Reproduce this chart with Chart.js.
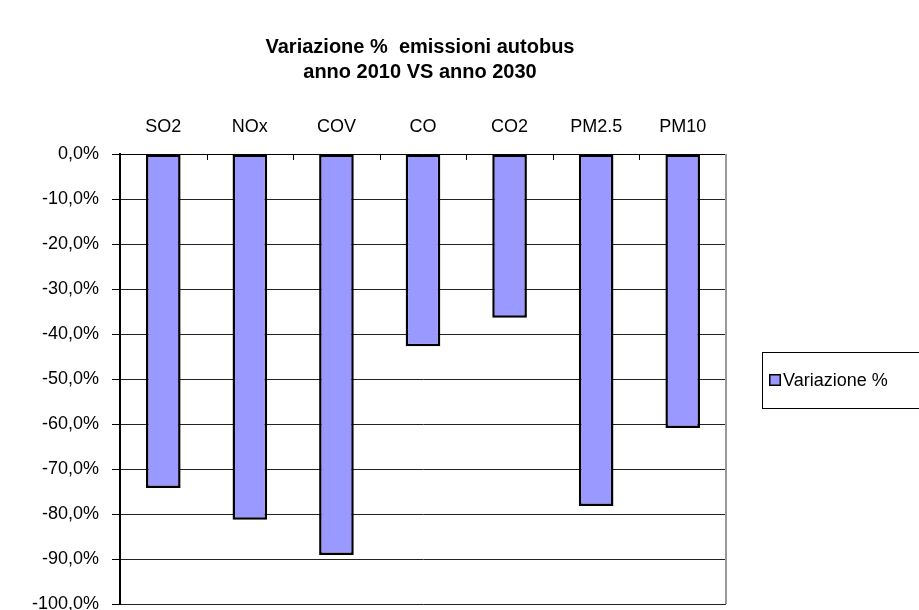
<!DOCTYPE html>
<html>
<head>
<meta charset="utf-8">
<script src="https://cdn.jsdelivr.net/npm/chart.js@4.4.1/dist/chart.umd.min.js"></script>
<style>
html,body{margin:0;padding:0;background:#fff;}
#wrap{position:relative;width:919px;height:610px;}
</style>
</head>
<body>
<div id="wrap"><canvas id="c" width="919" height="610"></canvas></div>
<script>
const categories = ["SO2", "NOx", "COV", "CO", "CO2", "PM2.5", "PM10"];
const seriesName = "Variazione %";
const values = [-74.2, -81.3, -89.1, -42.7, -36.4, -78.2, -60.9];
const titleLines = ["Variazione %  emissioni autobus", "anno 2010 VS anno 2030"];
const yMin = -100, yMax = 0, yStep = 10;

const FONT = "'Liberation Sans', Arial, sans-serif";

const decor = {
  id: 'decor',
  afterDraw(chart) {
    const ctx = chart.ctx;
    const a = chart.chartArea;
    const x = chart.scales.x;
    ctx.save();
    // right border (gray)
    ctx.strokeStyle = '#999';
    ctx.lineWidth = 2;
    ctx.beginPath();
    ctx.moveTo(a.right, a.top);
    ctx.lineTo(a.right, a.bottom);
    ctx.stroke();
    // inward category ticks at top
    ctx.strokeStyle = '#000';
    ctx.lineWidth = 1;
    const n = categories.length;
    for (let i = 1; i < n; i++) {
      const px = Math.round((x.getPixelForValue(i - 1) + x.getPixelForValue(i)) / 2) + 0.5;
      ctx.beginPath();
      ctx.moveTo(px, a.top);
      ctx.lineTo(px, a.top + 6);
      ctx.stroke();
    }
    // title
    ctx.fillStyle = '#000';
    ctx.font = "bold 20px " + FONT;
    ctx.textAlign = 'center';
    ctx.textBaseline = 'middle';
    ctx.fillText(titleLines[0], 420, 47);
    ctx.fillText(titleLines[1], 420, 72);
    // legend
    ctx.strokeStyle = '#000';
    ctx.lineWidth = 1;
    ctx.strokeRect(762.5, 352.5, 170, 56);
    ctx.fillStyle = '#9999FF';
    ctx.fillRect(770, 375, 10, 10);
    ctx.strokeStyle = '#000';
    ctx.lineWidth = 1.5;
    ctx.strokeRect(769.75, 374.75, 10.5, 10.5);
    ctx.fillStyle = '#000';
    ctx.font = "18px " + FONT;
    ctx.textAlign = 'left';
    ctx.fillText(chart.data.datasets[0].label, 783, 381);
    ctx.restore();
  }
};

new Chart(document.getElementById('c'), {
  type: 'bar',
  data: {
    labels: categories,
    datasets: [{
      label: seriesName,
      data: values,
      backgroundColor: '#9999FF',
      borderColor: '#000',
      borderWidth: 2.5,
      borderSkipped: false,
      categoryPercentage: 1.0,
      barPercentage: 0.4
    }]
  },
  options: {
    responsive: false,
    animation: false,
    devicePixelRatio: 1,
    layout: { padding: { left: 0, top: 110, right: 193, bottom: 6 } },
    plugins: { legend: { display: false }, title: { display: false }, tooltip: { enabled: false } },
    scales: {
      x: {
        position: 'top',
        offset: true,
        grid: { display: false },
        border: { display: true, color: '#000', width: 1 },
        ticks: { color: '#000', font: { family: FONT, size: 18 }, padding: 8, maxRotation: 0 },
        afterFit(scale) { scale.height = 44; scale.paddingLeft = 0; scale.paddingRight = 0; }
      },
      y: {
        min: yMin, max: yMax,
        ticks: {
          stepSize: yStep,
          color: '#000',
          font: { family: FONT, size: 18 },
          padding: 13,
          callback: v => v.toFixed(1).replace('.', ',') + '%'
        },
        grid: { color: '#222', lineWidth: 1, tickLength: 8, drawTicks: true, tickColor: '#000' },
        border: { display: true, color: '#000', width: 2 },
        afterFit(scale) { scale.width = 120; scale.paddingTop = 0; scale.paddingBottom = 0; }
      }
    }
  },
  plugins: [decor]
});
</script>
</body>
</html>
